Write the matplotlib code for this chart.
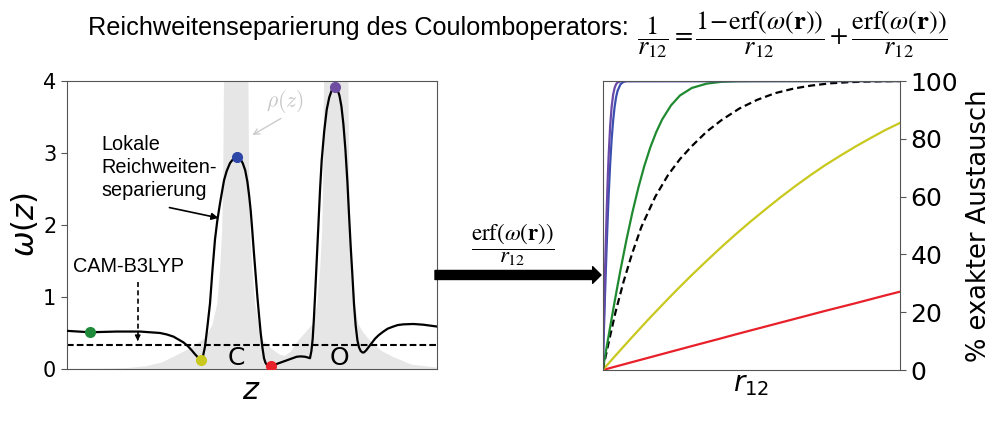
import matplotlib
matplotlib.use('Agg')
import matplotlib.pyplot as plt
import numpy as np
from matplotlib.patches import FancyArrowPatch

plt.rcParams['font.family'] = ['DejaVu Sans']

# omega(z) (z in arbitrary units 0..370)
omega_z = [0, 23.3, 50, 73.3, 93.3, 100, 106.7, 111.7, 116.7, 121, 125, 128, 130, 132, 134,
           136, 138.3, 140.8, 143.3, 145.8, 148.3, 150.5, 153.3, 157.3, 160, 163.3, 166.7,
           170.7, 173.5, 176, 178.5, 180.7, 182.5, 184, 185.7, 187.3, 189, 190.7, 192.3,
           194, 195.7, 197.3, 198.7, 200, 202, 204, 207, 210, 215, 220, 225, 230, 234,
           238.3, 241, 243.3, 244.7, 246, 247.2, 248.3, 250, 251.7, 253.3, 255, 257.5,
           260, 262.5, 265, 268.3, 270.5, 272.7, 274.7, 276.7, 278.7, 280.7, 282.3, 284,
           285.7, 287.3, 289, 290.7, 292.3, 294, 295.7, 297.3, 299.5, 301.7, 305, 308.3,
           312, 316.7, 321, 326.7, 331, 336.7, 346.7, 356.7, 370]
omega_v = [0.53, 0.51, 0.52, 0.52, 0.50, 0.48, 0.45, 0.41, 0.37, 0.32, 0.26, 0.21, 0.18, 0.15, 0.125,
           0.16, 0.31, 0.6, 0.91, 1.38, 1.8, 2.05, 2.3, 2.62, 2.75, 2.86, 2.92,
           2.94, 2.92, 2.86, 2.76, 2.6, 2.4, 2.2, 1.9, 1.6, 1.3, 1.0, 0.75,
           0.5, 0.3, 0.15, 0.09, 0.06, 0.045, 0.04, 0.055, 0.07, 0.095, 0.12, 0.145, 0.17, 0.175,
           0.17, 0.16, 0.15, 0.25, 0.42, 0.7, 1.0, 1.5, 2.0, 2.48, 2.9, 3.3,
           3.6, 3.77, 3.87, 3.91, 3.89, 3.8, 3.65, 3.4, 3.05, 2.6, 2.15, 1.7,
           1.3, 0.9, 0.6, 0.4, 0.3, 0.25, 0.23, 0.23, 0.26, 0.3, 0.36, 0.42,
           0.47, 0.52, 0.56, 0.59, 0.61, 0.62, 0.625, 0.615, 0.59]

# electron density rho(z) (grey shading)
rho_z = [0, 40, 60, 80, 95, 107, 125, 137.5, 145.5, 150.5, 153.5, 155.5, 156.5, 157.3, 158.5,
         169.5, 180.5, 181.7, 182.5, 183.5, 185.5, 188.5, 193, 196, 205, 213, 218, 224, 232,
         246.6, 250.5, 253.5, 255.5, 256.5, 257.3, 258.5, 269.5, 280.5, 281.7, 282.5, 283.5,
         285.5, 288.5, 291.3, 297, 303, 315, 326, 345, 370]
rho_v = [0, 0.005, 0.012, 0.04, 0.09, 0.17, 0.3, 0.42, 0.6, 0.9, 1.4, 1.93, 2.6, 4.0, 8,
         12, 8, 4.0, 2.6, 1.93, 1.4, 0.9, 0.55, 0.4, 0.28, 0.2, 0.18, 0.24, 0.4,
         0.63, 0.9, 1.4, 1.93, 2.6, 4.0, 8, 12, 8, 4.0, 2.6, 1.93,
         1.4, 0.9, 0.63, 0.5, 0.4, 0.25, 0.17, 0.06, 0.02]

cam_omega = 0.33

# marked points on omega(z)
dot_z = [23.3, 134, 170.7, 204, 268.3]
dot_v = [0.51, 0.125, 2.94, 0.04, 3.91]
dot_colors = ['#1f8a3a', '#c8c81e', '#2d47a8', '#e8202a', '#6f4ea2']

# right panel: % exact exchange vs r12 (r12 scaled 0..1)
r_purple = [0, 0.0025, 0.005, 0.0075, 0.01, 0.0125, 0.015, 0.0175, 0.02, 0.025, 0.03,
            0.035, 0.04, 0.045, 0.05, 0.06, 0.07, 1.0]
pct_purple = [0, 11.2, 22.3, 32.9, 42.8, 52.0, 60.4, 67.8, 74.2, 84.3, 91.0,
              95.2, 97.6, 98.9, 99.5, 99.93, 99.99, 100]
r_blue = [0, 0.0025, 0.005, 0.0075, 0.01, 0.0125, 0.015, 0.0175, 0.02, 0.025, 0.03,
          0.035, 0.04, 0.045, 0.05, 0.06, 0.07, 0.08, 1.0]
pct_blue = [0, 8.4, 16.8, 25.0, 32.9, 40.4, 47.5, 54.2, 60.4, 71.1, 79.7,
            86.2, 91.0, 94.4, 96.6, 98.9, 99.7, 99.93, 100]
r_green = [0, 0.01, 0.02, 0.03, 0.04, 0.05, 0.06, 0.08, 0.1, 0.12, 0.14, 0.16, 0.18, 0.2,
           0.23, 0.26, 0.3, 0.35, 0.4, 0.45, 0.5, 0.6, 1.0]
pct_green = [0, 6.0, 11.9, 17.8, 23.6, 29.2, 34.7, 45.1, 54.6, 63.1, 70.6, 77.0, 82.3, 86.7,
             91.6, 95.0, 97.6, 99.1, 99.73, 99.93, 99.98, 100, 100]
r_cam = [0, 0.02, 0.043, 0.07, 0.098, 0.13, 0.177, 0.22, 0.26, 0.3, 0.35, 0.4, 0.46, 0.52,
         0.58, 0.643, 0.7, 0.765, 0.83, 0.887, 1.0]
pct_cam = [0, 9.5, 20, 30.5, 40, 49.5, 60, 67.5, 73, 77.5, 82.5, 86.5, 90.5, 93.5,
           95.8, 97.4, 98.4, 99.2, 99.6, 99.8, 100]
r_slow = [0, 0.05, 0.1, 0.15, 0.2, 0.25, 0.3, 0.35, 0.4, 0.45, 0.5,
          0.55, 0.6, 0.65, 0.7, 0.75, 0.8, 0.85, 0.9, 0.95, 1.0]
pct_yellow = [0, 5.8, 11.5, 17.1, 22.5, 27.8, 32.9, 37.8, 42.6, 47.2, 51.6,
              55.8, 59.9, 63.8, 67.5, 71.0, 74.2, 77.3, 80.2, 83.0, 85.5]
pct_red = [0, 1.38, 2.76, 4.14, 5.52, 6.9, 8.28, 9.64, 11.0, 12.4, 13.75,
           15.1, 16.45, 17.8, 19.15, 20.5, 21.8, 23.1, 24.45, 25.8, 27.1]

fig = plt.figure(figsize=(10, 4.25), dpi=100)

# ---- left panel
ax = fig.add_axes([0.0667, 0.1318, 0.37, 0.6776])
ax.fill_between(rho_z, 0, rho_v, color='#e6e6e6', lw=0, zorder=1)
ax.axhline(cam_omega, color='k', lw=1.5, dashes=(3.2, 1.5), zorder=2)
ax.plot(omega_z, omega_v, color='k', lw=1.6, zorder=3)
for zz, vv, cc in zip(dot_z, dot_v, dot_colors):
    ax.plot(zz, vv, 'o', color=cc, ms=7, mec=cc, zorder=4)
ax.set_xlim(0, 370)
ax.set_ylim(0, 4)
ax.set_xticks([])
ax.set_yticks([0, 1, 2, 3, 4])
ax.tick_params(axis='y', labelsize=15, length=4, color='#555555')
for s in ax.spines.values():
    s.set_color('#555555')
ax.set_ylabel(r'$\omega(z)$', fontsize=22, labelpad=2)
ax.set_xlabel(r'$z$', fontsize=22, labelpad=5)

ax.text(218, 3.71, r'$\rho(z)$', math_fontfamily='cm', color='#c8c8c8',
        fontsize=15.5, ha='center', va='center')
ax.annotate('', xy=(183.3, 3.23), xytext=(216.7, 3.5),
            arrowprops=dict(arrowstyle='->', color='#cccccc', lw=1))
ax.text(35, 2.8, 'Lokale\nReichweiten-\nseparierung', family='Liberation Sans',
        fontsize=14.3, ha='left', va='center', linespacing=1.25)
ax.annotate('', xy=(154.5, 2.09), xytext=(100, 2.25),
            arrowprops=dict(arrowstyle='-|>', color='k', lw=1.2, mutation_scale=10))
ax.text(6.6, 1.42, 'CAM-B3LYP', family='Liberation Sans', fontsize=14.3,
        ha='left', va='center')
ax.plot([71, 71], [1.21, 0.42], color='k', lw=1.2, dashes=(3, 2))
ax.annotate('', xy=(71, 0.35), xytext=(71, 0.45),
            arrowprops=dict(arrowstyle='-|>', color='k', lw=1, mutation_scale=8))
ax.text(170, 0.15, 'C', fontsize=18, ha='center', va='center')
ax.text(272.7, 0.15, 'O', fontsize=18, ha='center', va='center')

# ---- right panel
ax2 = fig.add_axes([0.6027, 0.1294, 0.2973, 0.68])
ax2.plot(r_slow, pct_red, color='#e8202a', lw=1.6)
ax2.plot(r_slow, pct_yellow, color='#c8c81e', lw=1.6)
ax2.plot(r_cam, pct_cam, color='k', lw=1.6, dashes=(3.2, 1.8))
ax2.plot(r_green, pct_green, color='#1f8a30', lw=1.6)
ax2.plot(r_blue, pct_blue, color='#3a4fb0', lw=1.6)
ax2.plot(r_purple, pct_purple, color='#6a4aa8', lw=1.6)
ax2.set_xlim(0, 1)
ax2.set_ylim(0, 100)
ax2.set_xticks([])
ax2.yaxis.tick_right()
ax2.yaxis.set_label_position('right')
ax2.set_yticks([0, 20, 40, 60, 80, 100])
ax2.tick_params(axis='y', labelsize=18, length=4, color='#555555')
for s in ax2.spines.values():
    s.set_color('#555555')
ax2.set_ylabel('% exakter Austausch', fontsize=18.5, labelpad=6)
ax2.set_xlabel(r'$r_{12}$', fontsize=20, labelpad=0)

# ---- middle arrow + formula
fig.add_artist(FancyArrowPatch((0.435, 0.353), (0.601, 0.353), transform=fig.transFigure,
                               arrowstyle='simple,head_length=0.6,head_width=1.2,tail_width=0.65',
                               mutation_scale=10, color='k', shrinkA=0, shrinkB=0))
fig.text(0.513, 0.4235, r'$\dfrac{\mathrm{erf}\left(\omega(\mathbf{r})\right)}{r_{12}}$',
         math_fontfamily='stix', fontsize=16.5, ha='center', va='center')

# ---- title
fig.text(0.088, 0.934, 'Reichweitenseparierung des Coulomboperators:',
         family='Liberation Sans', fontsize=18.2, ha='left', va='center')
fig.text(0.637, 0.918,
         r'$\dfrac{1}{r_{12}}=\dfrac{1\!-\!\mathrm{erf}\left(\omega(\mathbf{r})\right)}{r_{12}}'
         r'+\dfrac{\mathrm{erf}\left(\omega(\mathbf{r})\right)}{r_{12}}$',
         math_fontfamily='stix', fontsize=19, ha='left', va='center')

fig.savefig('out.png', dpi=100)
